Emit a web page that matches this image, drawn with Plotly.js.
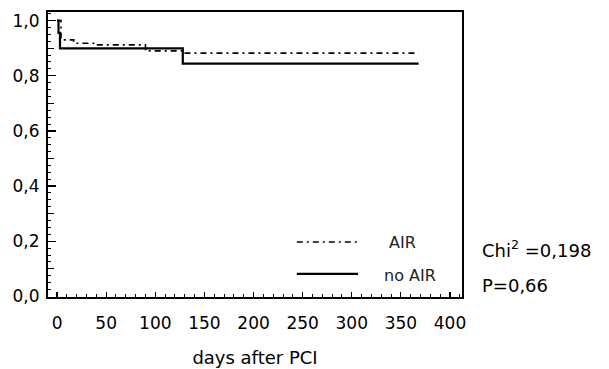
<!DOCTYPE html>
<html>
<head>
<meta charset="utf-8">
<script src="https://cdn.plot.ly/plotly-3.0.1.min.js"></script>
<style>html,body{margin:0;padding:0;background:#fff;}#chart{width:609px;height:369px;}</style>
</head>
<body>
<div id="chart"></div>
<script>
// Kaplan-Meier step data
const airDays = [0, 4, 17, 40, 90, 128, 368];
const airSurv = [1.0, 0.93, 0.918, 0.912, 0.89, 0.882, 0.882];
const noAirDays = [0, 1.5, 3, 128, 368];
const noAirSurv = [1.0, 0.955, 0.899, 0.844, 0.844];
const seriesNames = ["AIR", "no AIR"];
const xTickVals = [0, 50, 100, 150, 200, 250, 300, 350, 400];
const yTickVals = [0, 0.2, 0.4, 0.6, 0.8, 1.0];
const statLines = ["Chi<sup>2</sup> =0,198", "P=0,66"];

const FONT = "DejaVu Sans, Liberation Sans, Arial, sans-serif";

const traces = [
  {x: airDays, y: airSurv, mode: "lines", line: {shape: "hv", color: "#000", width: 1.6, dash: "6px,4px,2px,4px"}, name: seriesNames[0], showlegend: false, hoverinfo: "skip"},
  {x: noAirDays, y: noAirSurv, mode: "lines", line: {shape: "hv", color: "#000", width: 2.2}, name: seriesNames[1], showlegend: false, hoverinfo: "skip"},
  {x: [], y: [], yaxis: "y2", xaxis: "x", showlegend: false, hoverinfo: "skip"}
];

const layout = {
  width: 609, height: 369,
  margin: {l: 48, r: 147, t: 12, b: 72},
  paper_bgcolor: "#fff", plot_bgcolor: "#fff",
  separators: ", ",
  font: {family: FONT, color: "#000", size: 17},
  showlegend: false,
  xaxis: {
    range: [-9.2, 412.2], tickmode: "array", tickvals: xTickVals,
    ticks: "inside", ticklen: 5, tickwidth: 1.2, tickcolor: "#000",
    minor: {dtick: 10, tick0: 0, ticks: "inside", ticklen: 3, tickwidth: 1, tickcolor: "#000", showgrid: false},
    showgrid: false, zeroline: false, showline: true, linewidth: 2, linecolor: "#000", mirror: true,
    ticklabelstandoff: 10,
    tickfont: {size: 17, family: FONT},
    title: {text: "days after PCI", font: {size: 18, family: FONT}, standoff: 19},
    automargin: false
  },
  yaxis: {
    range: [-0.002, 1.031], tickmode: "array", tickvals: yTickVals,
    tickformat: ".1f",
    ticks: "inside", ticklen: 8, tickwidth: 1.2, tickcolor: "#000",
    minor: {dtick: 0.025, tick0: 0, ticks: "inside", ticklen: 3, tickwidth: 1, tickcolor: "#000", showgrid: false},
    showgrid: false, zeroline: false, showline: true, linewidth: 2, linecolor: "#000", mirror: true,
    ticklabelstandoff: 3,
    tickfont: {size: 17, family: FONT},
    automargin: false
  },
  yaxis2: {
    overlaying: "y", range: [-0.002, 1.031], dtick: 0.1, tick0: 0,
    ticks: "inside", ticklen: 6, tickwidth: 1, tickcolor: "#000",
    showticklabels: false, showgrid: false, zeroline: false, showline: false, side: "left"
  },
  shapes: [
    {type: "line", xref: "paper", yref: "paper", x0: 0.601, x1: 0.749, y0: 0.193, y1: 0.193, line: {color: "#000", width: 1.6, dash: "6px,4px,2px,4px"}},
    {type: "line", xref: "paper", yref: "paper", x0: 0.601, x1: 0.749, y0: 0.081, y1: 0.081, line: {color: "#000", width: 2.2}}
  ],
  annotations: [
    {text: seriesNames[0], xref: "paper", yref: "paper", x: 0.818, y: 0.190, xanchor: "left", yanchor: "middle", showarrow: false, font: {size: 16, family: FONT, color: "#222"}},
    {text: seriesNames[1], xref: "paper", yref: "paper", x: 0.806, y: 0.074, xanchor: "left", yanchor: "middle", showarrow: false, font: {size: 16, family: FONT, color: "#222"}},
    {text: statLines[0], xref: "paper", yref: "paper", x: 1.043, y: 0.168, xanchor: "left", yanchor: "middle", showarrow: false, font: {size: 18, family: FONT, color: "#000"}},
    {text: statLines[1], xref: "paper", yref: "paper", x: 1.043, y: 0.042, xanchor: "left", yanchor: "middle", showarrow: false, font: {size: 18, family: FONT, color: "#000"}}
  ]
};

Plotly.newPlot("chart", traces, layout, {staticPlot: true, displayModeBar: false});
</script>
</body>
</html>
